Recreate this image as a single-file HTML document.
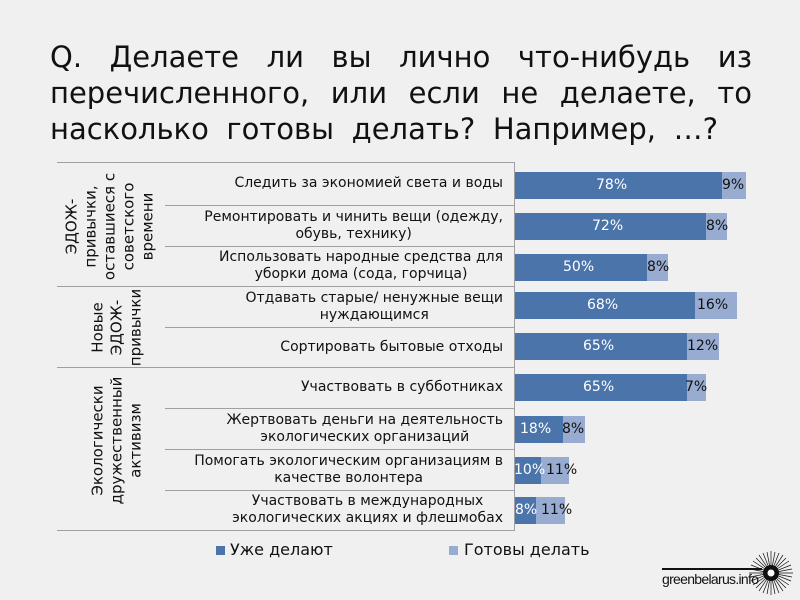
<!DOCTYPE html>
<html><head><meta charset="utf-8"><style>
body{margin:0;width:800px;height:600px;background:#f0f0f0;position:relative;overflow:hidden;font-family:"DejaVu Sans","Liberation Sans",sans-serif;color:#111}
.t{position:absolute;left:50px;width:702px;font-size:29px;text-align:justify;text-align-last:justify;white-space:nowrap;line-height:32px}
.hl{position:absolute;height:1px;background:#a0a0a0}
.it{position:absolute;left:165px;width:338px;text-align:right;font-size:14px;line-height:17px;display:flex;align-items:center;justify-content:flex-end}
.it span{text-align:center;display:block}
.b{position:absolute;height:27px}
.d{background:#4a74aa}.l{background:#97acd0}
.v{position:absolute;font-size:14px;line-height:17px}
.cat{position:absolute;font-size:15px;line-height:19px;text-align:center;transform:rotate(-90deg);transform-origin:50% 50%;white-space:nowrap;display:flex;align-items:center;justify-content:center}
</style></head><body>
<div class="t" style="top:41px">Q. Делаете ли вы лично что-нибудь из</div>
<div class="t" style="top:77px">перечисленного, или если не делаете, то</div>
<div class="t" style="top:113px;width:668px">насколько готовы делать? Например, …?</div>

<div class="hl" style="left:57px;width:458px;top:162px"></div>
<div class="hl" style="left:57px;width:458px;top:286px"></div>
<div class="hl" style="left:57px;width:458px;top:367px"></div>
<div class="hl" style="left:57px;width:458px;top:530px"></div>
<div class="hl" style="left:165px;width:350px;top:205px"></div>
<div class="hl" style="left:165px;width:350px;top:246px"></div>
<div class="hl" style="left:165px;width:350px;top:327px"></div>
<div class="hl" style="left:165px;width:350px;top:408px"></div>
<div class="hl" style="left:165px;width:350px;top:449px"></div>
<div class="hl" style="left:165px;width:350px;top:490px"></div>
<div style="position:absolute;left:514px;top:162px;width:1px;height:369px;background:#a0a0a0"></div>

<div class="cat" style="left:48px;top:179px;width:124px;height:95px">ЭДОЖ-<br>привычки,<br>оставшиеся с<br>советского<br>времени</div>
<div class="cat" style="left:77px;top:299px;width:80px;height:57px">Новые<br>ЭДОЖ-<br>привычки</div>
<div class="cat" style="left:32px;top:412px;width:170px;height:57px">Экологически<br>дружественный<br>активизм</div>

<div class="it" style="top:162px;height:43px"><span>Следить за экономией света и воды</span></div>
<div class="it" style="top:205px;height:41px"><span>Ремонтировать и чинить вещи (одежду,<br>обувь, технику)</span></div>
<div class="it" style="top:246px;height:40px"><span>Использовать народные средства для<br>уборки дома (сода, горчица)</span></div>
<div class="it" style="top:286px;height:41px"><span>Отдавать старые/ ненужные вещи<br>нуждающимся</span></div>
<div class="it" style="top:327px;height:40px"><span>Сортировать бытовые отходы</span></div>
<div class="it" style="top:367px;height:41px"><span>Участвовать в субботниках</span></div>
<div class="it" style="top:408px;height:41px"><span>Жертвовать деньги на деятельность<br>экологических организаций</span></div>
<div class="it" style="top:449px;height:41px"><span>Помогать экологическим организациям в<br>качестве волонтера</span></div>
<div class="it" style="top:490px;height:40px"><span>Участвовать в международных<br>экологических акциях и флешмобах</span></div>

<div class="b d" style="left:515px;top:172px;width:207px"></div><div class="b l" style="left:722px;top:172px;width:24px"></div>
<div class="v" style="left:596px;top:177px;color:#fff">78%</div><div class="v" style="left:722px;top:177px">9%</div>

<div class="b d" style="left:515px;top:213px;width:191px"></div><div class="b l" style="left:706px;top:213px;width:21px"></div>
<div class="v" style="left:592px;top:218px;color:#fff">72%</div><div class="v" style="left:706px;top:218px">8%</div>

<div class="b d" style="left:515px;top:254px;width:132px"></div><div class="b l" style="left:647px;top:254px;width:21px"></div>
<div class="v" style="left:563px;top:259px;color:#fff">50%</div><div class="v" style="left:647px;top:259px">8%</div>

<div class="b d" style="left:515px;top:292px;width:180px"></div><div class="b l" style="left:695px;top:292px;width:42px"></div>
<div class="v" style="left:587px;top:297px;color:#fff">68%</div><div class="v" style="left:697px;top:297px">16%</div>

<div class="b d" style="left:515px;top:333px;width:172px"></div><div class="b l" style="left:687px;top:333px;width:32px"></div>
<div class="v" style="left:583px;top:338px;color:#fff">65%</div><div class="v" style="left:687px;top:338px">12%</div>

<div class="b d" style="left:515px;top:374px;width:172px"></div><div class="b l" style="left:687px;top:374px;width:19px"></div>
<div class="v" style="left:583px;top:379px;color:#fff">65%</div><div class="v" style="left:685px;top:379px">7%</div>

<div class="b d" style="left:515px;top:416px;width:48px"></div><div class="b l" style="left:563px;top:416px;width:22px"></div>
<div class="v" style="left:520px;top:421px;color:#fff">18%</div><div class="v" style="left:562px;top:421px">8%</div>

<div class="b d" style="left:515px;top:457px;width:26px"></div><div class="b l" style="left:541px;top:457px;width:28px"></div>
<div class="v" style="left:514px;top:462px;color:#fff">10%</div><div class="v" style="left:546px;top:462px">11%</div>

<div class="b d" style="left:515px;top:497px;width:21px"></div><div class="b l" style="left:536px;top:497px;width:29px"></div>
<div class="v" style="left:515px;top:502px;color:#fff">8%</div><div class="v" style="left:541px;top:502px">11%</div>

<div style="position:absolute;left:216px;top:546px;width:9px;height:9px;background:#4a74aa"></div>
<div style="position:absolute;left:230px;top:540px;font-size:16px">Уже делают</div>
<div style="position:absolute;left:449px;top:546px;width:9px;height:9px;background:#97acd0"></div>
<div style="position:absolute;left:464px;top:540px;font-size:16px">Готовы делать</div>

<div style="position:absolute;left:662px;top:568px;width:100px;height:2px;background:#111"></div>
<div style="position:absolute;left:662px;top:571px;font-family:'Liberation Sans Narrow','Liberation Sans',sans-serif;font-size:14px;letter-spacing:-0.7px">greenbelarus.info</div>
<svg style="position:absolute;left:746px;top:548px" width="50" height="50" viewBox="-25 -25 50 50">
<g stroke="#111" stroke-width="0.7">
<line x1="0" y1="-22" x2="0" y2="22"/><line x1="-22" y1="0" x2="22" y2="0"/>
<line x1="-15" y1="-15" x2="15" y2="15"/><line x1="-15" y1="15" x2="15" y2="-15"/>
<line x1="-8" y1="-20" x2="8" y2="20"/><line x1="8" y1="-20" x2="-8" y2="20"/>
<line x1="-20" y1="-8" x2="20" y2="8"/><line x1="-20" y1="8" x2="20" y2="-8"/>
<line x1="-4" y1="-21" x2="4" y2="21"/><line x1="4" y1="-21" x2="-4" y2="21"/>
<line x1="-21" y1="-4" x2="21" y2="4"/><line x1="-21" y1="4" x2="21" y2="-4"/>
<line x1="-12" y1="-18" x2="12" y2="18"/><line x1="12" y1="-18" x2="-12" y2="18"/>
<line x1="-18" y1="-12" x2="18" y2="12"/><line x1="-18" y1="12" x2="18" y2="-12"/>
</g>
<circle r="8" fill="#111"/><circle r="3.5" fill="#fff"/>
</svg>
</body></html>
